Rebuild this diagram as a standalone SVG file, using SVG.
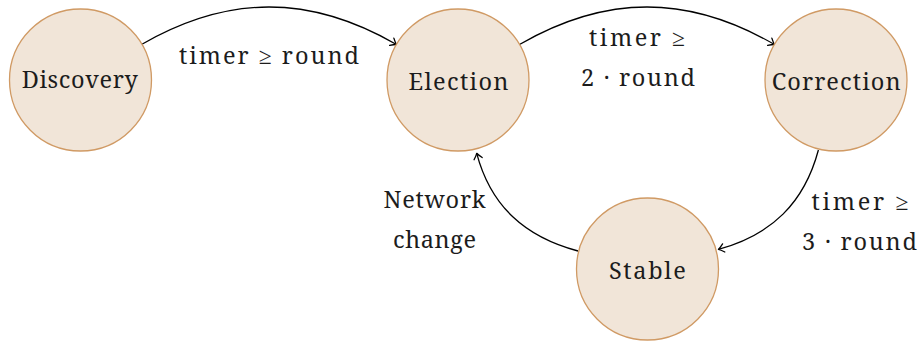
<svg xmlns="http://www.w3.org/2000/svg" width="921" height="345" viewBox="0 0 921 345">
  <style>
    .state circle { fill: #f1e5d8; stroke: #d09a64; stroke-width: 1.3; }
    .edge { fill: none; stroke: #000; stroke-width: 1.3; marker-end: url(#tip); }
  </style>
  <defs>
    <marker id="tip" markerUnits="userSpaceOnUse" markerWidth="12" markerHeight="12" refX="0" refY="0" viewBox="-7 -6 9 12" orient="auto" overflow="visible">
      <path d="M -5.5 -4.2 Q -2 -1 0 0 Q -2 1 -5.5 4.2" fill="none" stroke="#000" stroke-width="1.3" stroke-linecap="round" stroke-linejoin="round"/>
    </marker>
  </defs>

  <g font-family="'Noto Serif', 'Liberation Serif', serif" font-size="23.5" fill="#1c1c1c" text-anchor="middle">
    <!-- transitions -->
    <g id="connectors">
      <path class="edge" d="M 141.5 44.5 C 228 -5.5 310 -5.5 396.5 44.5"/>
      <path class="edge" d="M 519.5 44.5 C 606 -5.5 688 -5.5 774.5 44.5"/>
      <path class="edge" d="M 818.4 150 C 804.2 203.1 771.6 234.8 718.4 249.4"/>
      <path class="edge" d="M 578 251 C 524.9 236.8 490.9 206.4 476.7 153.3"/>
      <text x="269" y="64" textLength="180" lengthAdjust="spacing">timer ≥ round</text>
      <text x="637" y="46" textLength="96" lengthAdjust="spacing">timer ≥</text>
      <text x="638" y="86" textLength="114" lengthAdjust="spacing">2 · round</text>
      <text x="860" y="210" textLength="97" lengthAdjust="spacing">timer ≥</text>
      <text x="859.5" y="250" textLength="115" lengthAdjust="spacing">3 · round</text>
      <text x="434.5" y="208.3" textLength="102" lengthAdjust="spacing">Network</text>
      <text x="434.5" y="248.3" textLength="83" lengthAdjust="spacing">change</text>
    </g>

    <!-- states -->
    <g id="discovery" class="state">
      <circle cx="80.5" cy="80" r="71"/>
      <text x="79.7" y="87.5" textLength="116" lengthAdjust="spacing">Discovery</text>
    </g>
    <g id="election" class="state">
      <circle cx="458" cy="80" r="71"/>
      <text x="458.5" y="90" textLength="100" lengthAdjust="spacing">Election</text>
    </g>
    <g id="correction" class="state">
      <circle cx="836" cy="80" r="71"/>
      <text x="836.2" y="90" textLength="129" lengthAdjust="spacing">Correction</text>
    </g>
    <g id="stable" class="state">
      <circle cx="647.5" cy="269" r="71"/>
      <text x="647.4" y="279.3" textLength="77" lengthAdjust="spacing">Stable</text>
    </g>
  </g>
</svg>
